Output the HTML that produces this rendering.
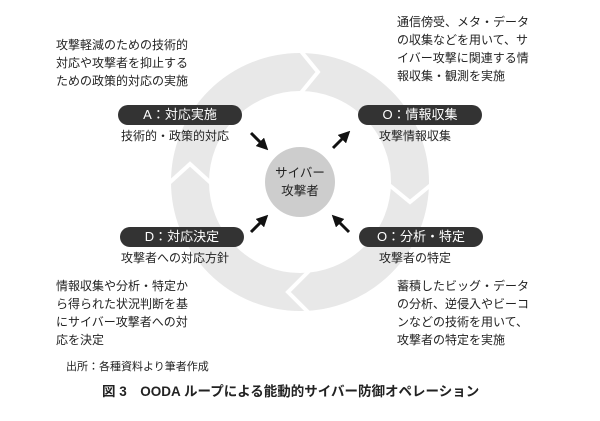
<!DOCTYPE html><html><head><meta charset="utf-8"><style>
body{margin:0;width:600px;height:421px;background:#fff;position:relative;font-family:"Liberation Sans","Noto Sans CJK JP",sans-serif;color:#222;overflow:hidden}
.t{position:absolute;font-size:12px;line-height:18px;white-space:nowrap}
.p{position:absolute;background:#333;color:#fff;font-size:13px;height:20px;line-height:20px;border-radius:10px;text-align:center;width:124px}
</style></head><body>
<svg width="600" height="421" style="position:absolute;left:0;top:0">
<circle cx="300" cy="182" r="110" fill="none" stroke="#e8e8e8" stroke-width="38"/>
<g fill="none" stroke="#fff" stroke-width="4">
<polyline points="300,50 318,72 300,94"/>
<polyline points="388,184 410,202 432,184"/>
<polyline points="310,270 288,292 310,314"/>
<polyline points="168,184 190,164 212,184"/>
</g>
<circle cx="300" cy="182" r="35" fill="#cdcdcd"/>
<defs><marker id="a" markerWidth="4" markerHeight="4" refX="2" refY="2" orient="auto"><path d="M0,0L4,2L0,4z" fill="#111"/></marker></defs>
<g stroke="#111" stroke-width="3" marker-end="url(#a)">
<line x1="251" y1="133" x2="264" y2="146"/>
<line x1="333" y1="148" x2="346" y2="135"/>
<line x1="251" y1="232" x2="264" y2="219"/>
<line x1="349" y1="232" x2="336" y2="219"/>
</g>
</svg>
<div class="t" style="left:273px;top:164px;font-size:12.5px;text-align:center;width:54px">サイバー<br>攻撃者</div>
<div class="p" style="left:118px;top:105px">A：対応実施</div>
<div class="p" style="left:358px;top:105px">O：情報収集</div>
<div class="p" style="left:120px;top:227px">D：対応決定</div>
<div class="p" style="left:359px;top:227px">O：分析・特定</div>
<div class="t" style="left:121px;top:127px">技術的・政策的対応</div>
<div class="t" style="left:379px;top:127px">攻撃情報収集</div>
<div class="t" style="left:121px;top:249px">攻撃者への対応方針</div>
<div class="t" style="left:379px;top:249px">攻撃者の特定</div>
<div class="t" style="left:56px;top:36px">攻撃軽減のための技術的<br>対応や攻撃者を抑止する<br>ための政策的対応の実施</div>
<div class="t" style="left:397px;top:13px">通信傍受、メタ・データ<br>の収集などを用いて、サ<br>イバー攻撃に関連する情<br>報収集・観測を実施</div>
<div class="t" style="left:56px;top:277px">情報収集や分析・特定か<br>ら得られた状況判断を基<br>にサイバー攻撃者への対<br>応を決定</div>
<div class="t" style="left:397px;top:277px">蓄積したビッグ・データ<br>の分析、逆侵入やビーコ<br>ンなどの技術を用いて、<br>攻撃者の特定を実施</div>
<div class="t" style="left:66px;top:358px;font-size:11px">出所：各種資料より筆者作成</div>
<div class="t" style="left:102px;top:383px;font-size:13.5px;font-weight:bold">図 3　OODA ループによる能動的サイバー防御オペレーション</div>
</body></html>
